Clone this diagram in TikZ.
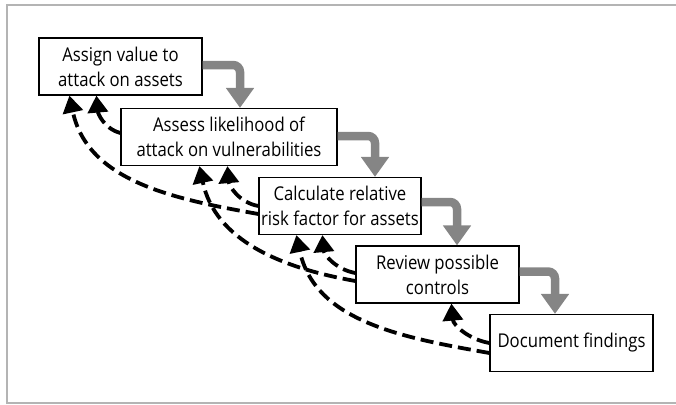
\documentclass[tikz,border=0pt]{standalone}
\usepackage{fontspec}
\setmainfont{Open Sans}[FakeStretch=0.88]
\usetikzlibrary{arrows.meta}
\definecolor{flowgray}{HTML}{858585}
\definecolor{framegray}{HTML}{B4B4B4}
\begin{document}
\begin{tikzpicture}[x=1pt,y=-1pt,
  stepbox/.style={draw=black, line width=1.2pt, minimum width=#1, minimum height=57pt,
    inner sep=0pt, align=center, font=\fontsize{19pt}{25pt}\selectfont},
  flow/.style={draw=flowgray, line width=8.5pt, rounded corners=7pt,
    -{Triangle[length=20pt,width=27pt]}},
  back/.style={draw=black, line width=3.8pt, dash pattern=on 13pt off 6pt,
    -{Triangle[length=17pt,width=20pt]}}]
  % page and frame
  \useasboundingbox (0,0) rectangle (676,404);
  \draw[framegray, line width=2pt] (676,5) -- (7,5) -- (7,404);
  \draw[framegray, line width=2pt] (7,403) -- (676,403);

  % process steps
  \node[stepbox=163pt] (b1) at (120.5,66.5) {Assign value to\\attack on assets};
  \node[stepbox=216pt] (b2) at (229,137) {Assess likelihood of\\attack on vulnerabilities};
  \node[stepbox=162pt] (b3) at (340,206) {Calculate relative\\risk factor for assets};
  \node[stepbox=163pt] (b4) at (437.5,274.5) {Review possible\\controls};
  \node[stepbox=163pt] (b5) at (571.5,343) {Document findings};

  % forward flow
  \draw[flow] ([yshift=1.5pt]b1.east) -| ([xshift=11pt]b2.north);
  \draw[flow] ([yshift=1pt]b2.east) -| ([xshift=35pt]b3.north);
  \draw[flow] ([yshift=4pt]b3.east) -| ([xshift=19.5pt]b4.north);
  \draw[flow] ([yshift=3pt]b4.east) -| ([xshift=-16.5pt]b5.north);

  % feedback to the previous step
  \draw[back] ([yshift=4pt]b2.west) to[out=165,in=-85] ([xshift=58pt]b1.south west);
  \draw[back] (b3.west) to[out=170,in=-85] ([xshift=107pt]b2.south west);
  \draw[back] ([yshift=1.5pt]b4.west) to[out=170,in=-85] ([xshift=64pt]b3.south west);
  \draw[back] (b5.west) to[out=170,in=-85] ([xshift=96pt]b4.south west);

  % feedback two steps back
  \draw[back] ([yshift=-8pt]b3.west) to[out=170,in=-78] ([xshift=31pt]b1.south west);
  \draw[back] ([yshift=-6.5pt]b4.west) to[out=170,in=-78] ([xshift=79pt]b2.south west);
  \draw[back] ([yshift=-10pt]b5.west) to[out=170,in=-78] ([xshift=38pt]b3.south west);
\end{tikzpicture}
\end{document}
